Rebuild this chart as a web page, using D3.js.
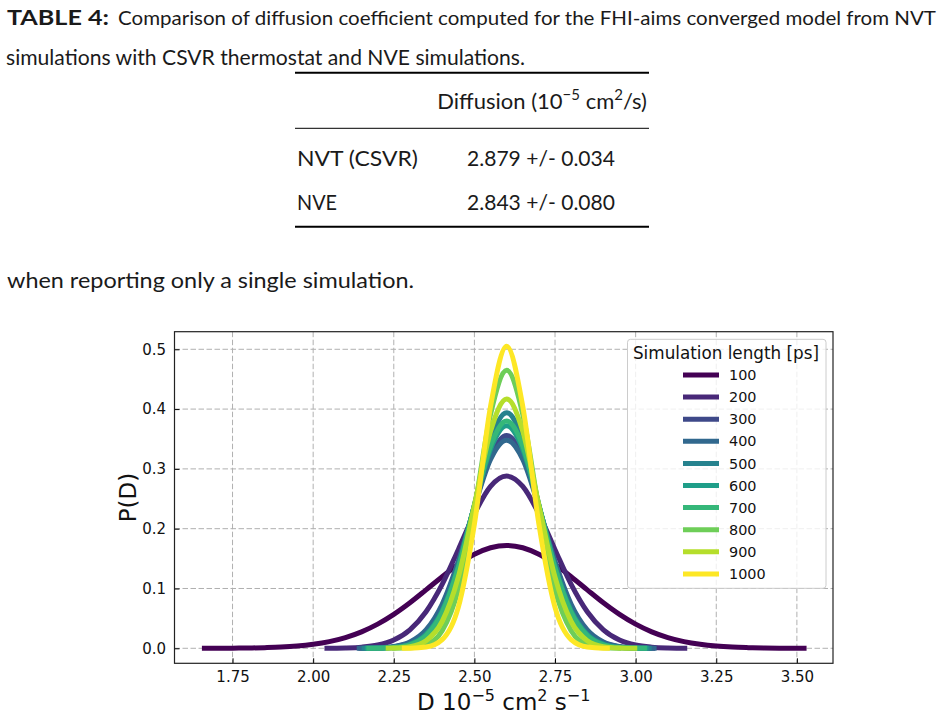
<!DOCTYPE html>
<html>
<head>
<meta charset="utf-8">
<script src="https://cdn.jsdelivr.net/npm/d3@7"></script>
<style>
  body { margin: 0; background: #fff; }
  svg { display: block; }
</style>
</head>
<body>
<svg id="page" width="944" height="718"></svg>
<script>
// ---- data ----
const lengths = [100, 200, 300, 400, 500, 600, 700, 800, 900, 1000];

const gridWide = [1.65, 1.70, 1.75, 1.80, 1.85, 1.90, 1.95, 2.00, 2.05, 2.10, 2.15, 2.20, 2.25,
  2.30, 2.35, 2.40, 2.45, 2.50, 2.55, 2.60, 2.65, 2.70, 2.75, 2.80, 2.85, 2.90, 2.95, 3.00,
  3.05, 3.10, 3.15, 3.20, 3.25, 3.30, 3.35, 3.40, 3.45, 3.50, 3.55];
const gridNarrow = [2.00, 2.05, 2.10, 2.15, 2.20, 2.25, 2.30, 2.35, 2.40, 2.45, 2.50, 2.55, 2.60,
  2.65, 2.70, 2.75, 2.80, 2.85, 2.90, 2.95, 3.00, 3.05, 3.10, 3.15, 3.20];

const p100 = [0, 0.0001, 0.0002, 0.0005, 0.0011, 0.0020, 0.0037, 0.0066, 0.0111, 0.0179, 0.0275,
  0.0404, 0.0567, 0.0761, 0.0977, 0.1197, 0.1403, 0.1571, 0.1681, 0.172, 0.1681, 0.1571, 0.1403,
  0.1197, 0.0977, 0.0761, 0.0567, 0.0404, 0.0275, 0.0179, 0.0111, 0.0066, 0.0037, 0.0020, 0.0011,
  0.0005, 0.0002, 0.0001, 0];
const p200 = [0, 0.0002, 0.0006, 0.0019, 0.0054, 0.0138, 0.0309, 0.0611, 0.1068, 0.1649, 0.2248, 0.2707,
  0.288, 0.2707, 0.2248, 0.1649, 0.1068, 0.0611, 0.0309, 0.0138, 0.0054, 0.0019, 0.0006, 0.0002, 0];
const p300 = [0, 0, 0, 0.0001, 0.0005, 0.0025, 0.0092, 0.0282, 0.0702, 0.1429, 0.2372, 0.3217,
  0.356, 0.3217, 0.2372, 0.1429, 0.0702, 0.0282, 0.0092, 0.0025, 0.0005, 0.0001, 0, 0, 0];
const p400 = [0, 0, 0, 0.0001, 0.0007, 0.0030, 0.0106, 0.0308, 0.0737, 0.1453, 0.2360, 0.3158,
  0.348, 0.3158, 0.2360, 0.1453, 0.0737, 0.0308, 0.0106, 0.0030, 0.0007, 0.0001, 0, 0, 0];
const p500 = [0, 0, 0, 0, 0.0001, 0.0009, 0.0045, 0.0176, 0.0540, 0.1288, 0.2397, 0.3480,
  0.394, 0.3480, 0.2397, 0.1288, 0.0540, 0.0176, 0.0045, 0.0009, 0.0001, 0, 0, 0, 0];
const p600 = [0, 0, 0, 0, 0.0003, 0.0016, 0.0068, 0.0230, 0.0627, 0.1367, 0.2384, 0.3328,
  0.372, 0.3328, 0.2384, 0.1367, 0.0627, 0.0230, 0.0068, 0.0016, 0.0003, 0, 0, 0, 0];
const p700 = [0, 0, 0, 0, 0.0002, 0.0013, 0.0059, 0.0211, 0.0598, 0.1343, 0.2393, 0.3385,
  0.380, 0.3385, 0.2393, 0.1343, 0.0598, 0.0211, 0.0059, 0.0013, 0.0002, 0, 0, 0, 0];
const p800 = [0, 0, 0, 0, 0, 0.0001, 0.0009, 0.0062, 0.0292, 0.0980, 0.2328, 0.3911,
  0.465, 0.3911, 0.2328, 0.0980, 0.0292, 0.0062, 0.0009, 0.0001, 0, 0, 0, 0, 0];
const p900 = [0, 0, 0, 0, 0.0001, 0.0005, 0.0028, 0.0128, 0.0448, 0.1189, 0.2388, 0.3627,
  0.417, 0.3627, 0.2388, 0.1189, 0.0448, 0.0128, 0.0028, 0.0005, 0.0001, 0, 0, 0, 0];
const p1000 = [0, 0, 0, 0, 0, 0, 0.0002, 0.0020, 0.0144, 0.0683, 0.2076, 0.4044,
  0.505, 0.4044, 0.2076, 0.0683, 0.0144, 0.0020, 0.0002, 0, 0, 0, 0, 0, 0];

// where each curve starts / stops along D
const dStart = [1.655, 2.035, 2.14, 2.135, 2.15, 2.16, 2.165, 2.245, 2.225, 2.275];
const dEnd = [3.53, 3.16, 3.06, 3.065, 3.05, 3.04, 3.035, 2.955, 3.005, 2.92];

const xTicks = [1.75, 2.00, 2.25, 2.50, 2.75, 3.00, 3.25, 3.50];
const yTicks = [0.0, 0.1, 0.2, 0.3, 0.4, 0.5];
const xLimits = [1.570, 3.612];
const yLimits = [-0.0251, 0.5294];

const tableRows = ['NVT (CSVR)', 'NVE'];
const tableValues = ['2.879 +/- 0.034', '2.843 +/- 0.080'];

// ---- drawing ----
const svg = d3.select('#page');
const ink = '#1a1a1a';
const bodyFont = 'Lato, "Open Sans", sans-serif';

// caption + table text
let txt = svg.append('g').attr('font-family', bodyFont).attr('fill', ink).attr('font-size', 22);

txt.append('text').attr('x', 7).attr('y', 25).attr('font-weight', 'bold').attr('font-size', 20)
  .attr('textLength', 102).attr('lengthAdjust', 'spacingAndGlyphs').text('TABLE 4:');
txt.append('text').attr('x', 118).attr('y', 25).attr('font-size', 20)
  .attr('textLength', 818).attr('lengthAdjust', 'spacingAndGlyphs')
  .text('Comparison of diffusion coefficient computed for the FHI-aims converged model from NVT');
txt.append('text').attr('x', 6).attr('y', 65)
  .attr('textLength', 519).attr('lengthAdjust', 'spacingAndGlyphs')
  .text('simulations with CSVR thermostat and NVE simulations.');

// table rules
svg.append('line').attr('x1', 295).attr('x2', 649).attr('y1', 72.7).attr('y2', 72.7)
  .attr('stroke', '#000').attr('stroke-width', 2);
svg.append('line').attr('x1', 295).attr('x2', 649).attr('y1', 128.3).attr('y2', 128.3)
  .attr('stroke', '#333').attr('stroke-width', 1.2);
svg.append('line').attr('x1', 295).attr('x2', 649).attr('y1', 226.7).attr('y2', 226.7)
  .attr('stroke', '#000').attr('stroke-width', 2);

let head = txt.append('text').attr('x', 647).attr('y', 109).attr('text-anchor', 'end');
head.append('tspan').text('Diffusion (10');
head.append('tspan').attr('dy', -9).attr('font-size', 15).text('\u22125');
head.append('tspan').attr('dy', 9).text(' cm');
head.append('tspan').attr('dy', -9).attr('font-size', 15).text('2');
head.append('tspan').attr('dy', 9).text('/s)');

tableRows.forEach(function(r, i) {
  let yy = 166 + i * 44;
  txt.append('text').attr('x', 297).attr('y', yy)
    .attr('textLength', r.length > 3 ? 121 : 40).attr('lengthAdjust', 'spacingAndGlyphs').text(r);
  txt.append('text').attr('x', 467).attr('y', yy)
    .attr('textLength', 148).attr('lengthAdjust', 'spacingAndGlyphs').text(tableValues[i]);
});

txt.append('text').attr('x', 7).attr('y', 288)
  .attr('textLength', 407).attr('lengthAdjust', 'spacingAndGlyphs')
  .text('when reporting only a single simulation.');

// ---- chart ----
let axLeft = 174.5, axRight = 833, axTop = 331.7, axBottom = 663.3;

let x = d3.scaleLinear().domain(xLimits).range([axLeft, axRight]);
let y = d3.scaleLinear().domain(yLimits).range([axBottom, axTop]);

let chart = svg.append('g').attr('font-family', '"DejaVu Sans", sans-serif');

// grid
chart.append('g').selectAll('line').data(xTicks).enter().append('line')
  .attr('x1', d => x(d)).attr('x2', d => x(d)).attr('y1', axTop).attr('y2', axBottom)
  .attr('stroke', '#b0b0b0').attr('stroke-width', 1).attr('stroke-dasharray', '5.5,2.5');
chart.append('g').selectAll('line').data(yTicks).enter().append('line')
  .attr('x1', axLeft).attr('x2', axRight).attr('y1', d => y(d)).attr('y2', d => y(d))
  .attr('stroke', '#b0b0b0').attr('stroke-width', 1).attr('stroke-dasharray', '5.5,2.5');

// curves
let color = d3.scaleSequential(d3.interpolateViridis).domain([100, 1000]);
let pSeries = [p100, p200, p300, p400, p500, p600, p700, p800, p900, p1000];
let curves = lengths.map(function(L, i) {
  return {
    L: L,
    pts: d3.zip(i === 0 ? gridWide : gridNarrow, pSeries[i]),
    start: dStart[i],
    end: dEnd[i]
  };
});

let defs = svg.append('defs');
curves.forEach(function(c, i) {
  defs.append('clipPath').attr('id', 'clip' + i).append('rect')
    .attr('x', x(c.start)).attr('width', x(c.end) - x(c.start))
    .attr('y', axTop).attr('height', axBottom - axTop);
});

let line = d3.line()
  .x(d => x(d[0]))
  .y(d => y(d[1]))
  .curve(d3.curveMonotoneX);

chart.append('g').selectAll('path').data(curves).enter().append('path')
  .attr('clip-path', (d, i) => 'url(#clip' + i + ')')
  .attr('d', d => line(d.pts))
  .attr('fill', 'none')
  .attr('stroke', d => color(d.L))
  .attr('stroke-width', 5)
  .attr('stroke-linejoin', 'round');

// axes (ticks pointing in)
let xAxis = chart.append('g').attr('transform', 'translate(0,' + axBottom + ')')
  .call(d3.axisBottom(x).tickValues(xTicks).tickFormat(d3.format('.2f'))
    .tickSize(-5).tickPadding(7.7));
let yAxis = chart.append('g').attr('transform', 'translate(' + axLeft + ',0)')
  .call(d3.axisLeft(y).tickValues(yTicks).tickFormat(d3.format('.1f'))
    .tickSize(-5).tickPadding(8.5));
[xAxis, yAxis].forEach(function(a) {
  a.select('.domain').remove();
  a.selectAll('text').attr('font-size', 15).attr('fill', '#111')
    .attr('font-family', '"DejaVu Sans", sans-serif');
  a.selectAll('line').attr('stroke', '#000');
});

// spines
chart.append('rect').attr('x', axLeft).attr('y', axTop)
  .attr('width', axRight - axLeft).attr('height', axBottom - axTop)
  .attr('fill', 'none').attr('stroke', '#222').attr('stroke-width', 1.2);

// axis labels
let xl = chart.append('text').attr('x', (axLeft + axRight) / 2).attr('y', 710)
  .attr('text-anchor', 'middle').attr('font-size', 23).attr('fill', '#111');
xl.append('tspan').text('D 10');
xl.append('tspan').attr('dy', -9).attr('font-size', 16).text('\u22125');
xl.append('tspan').attr('dy', 9).text(' cm');
xl.append('tspan').attr('dy', -9).attr('font-size', 16).text('2');
xl.append('tspan').attr('dy', 9).text(' s');
xl.append('tspan').attr('dy', -9).attr('font-size', 16).text('\u22121');

chart.append('text')
  .attr('transform', 'translate(136,' + ((axTop + axBottom) / 2) + ') rotate(-90)')
  .attr('text-anchor', 'middle').attr('font-size', 23).attr('fill', '#111')
  .text('P(D)');

// legend
let lg = chart.append('g');
lg.append('rect').attr('x', 627.5).attr('y', 339.3).attr('width', 198.5).attr('height', 249)
  .attr('rx', 3).attr('fill', '#fff').attr('fill-opacity', 0.8)
  .attr('stroke', '#cccccc').attr('stroke-width', 1);
lg.append('text').attr('x', 726).attr('y', 359).attr('text-anchor', 'middle')
  .attr('font-size', 16.8).attr('fill', '#111').text('Simulation length [ps]');

let items = lg.selectAll('.item').data(lengths).enter().append('g')
  .attr('class', 'item')
  .attr('transform', (d, i) => 'translate(0,' + (375 + i * 22.1) + ')');
items.append('line').attr('x1', 683).attr('x2', 719).attr('y1', 0).attr('y2', 0)
  .attr('stroke', d => color(d)).attr('stroke-width', 5);
items.append('text').attr('x', 729).attr('dy', '0.36em')
  .attr('font-size', 14.4).attr('fill', '#111').text(d => d);
</script>
</body>
</html>
